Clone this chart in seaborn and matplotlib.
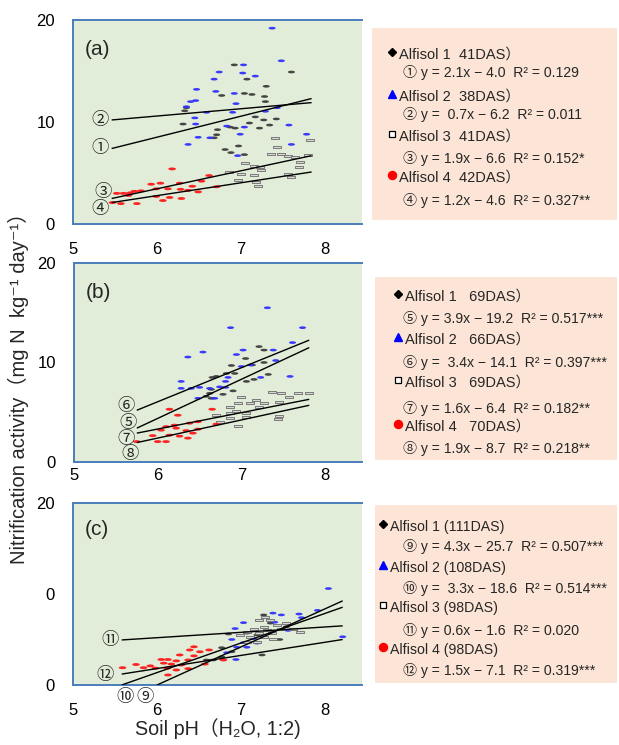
import numpy as np
import pandas as pd
import matplotlib
matplotlib.use("Agg")
import matplotlib.pyplot as plt
import seaborn as sns
from matplotlib.path import Path

W, H = 619, 745
sns.set_theme(style="white")
FONTS = ['Liberation Sans', 'Noto Sans CJK JP', 'DejaVu Sans']
plt.rcParams['font.family'] = FONTS

# ---------------- data ----------------
soils = ["Alfisol 1", "Alfisol 2", "Alfisol 3", "Alfisol 4"]

# panel (a)
a1_x = [6.92, 7.07, 7.60, 7.30, 6.77, 7.04, 7.13, 7.28, 7.29, 6.35, 6.33, 7.17, 7.27, 7.42, 7.10, 6.31, 6.87, 6.93, 7.22, 7.34, 6.72, 6.71, 6.68, 6.97, 6.81, 7.04, 6.88]
a1_y = [15.6, 14.2, 14.9, 13.5, 12.6, 12.8, 12.7, 12.5, 12.0, 11.4, 11.1, 10.5, 10.2, 10.3, 9.9, 9.8, 9.5, 9.4, 9.4, 9.7, 9.25, 8.75, 8.45, 7.65, 7.3, 6.8, 7.0]
a2_x = [7.37, 7.48, 6.74, 7.03, 7.02, 7.17, 6.68, 6.47, 6.70, 6.92, 6.46, 6.40, 6.35, 6.94, 6.59, 6.90, 7.29, 7.43, 6.45, 6.46, 6.83, 7.04, 7.57, 6.49, 6.63, 6.99, 7.78, 6.37, 7.60, 6.96]
a2_y = [19.2, 16.0, 14.9, 15.6, 14.8, 14.5, 14.2, 13.2, 13.0, 12.8, 12.1, 12.0, 11.5, 11.8, 10.95, 10.95, 11.05, 11.4, 10.4, 9.8, 9.6, 9.5, 9.7, 8.5, 8.45, 8.8, 8.8, 7.8, 7.8, 6.7]
a3_x = [7.40, 7.82, 7.43, 7.48, 7.56, 7.64, 7.80, 7.70, 7.05, 7.15, 7.23, 6.86, 7.00, 7.16, 7.56, 7.60, 6.96, 7.18, 7.20, 7.36, 7.69, 7.24]
a3_y = [8.45, 8.2, 7.55, 6.9, 6.65, 6.6, 6.75, 6.1, 5.95, 5.7, 5.6, 5.1, 4.95, 4.8, 4.95, 4.6, 4.3, 4.15, 3.75, 6.85, 5.6, 5.3]
a4_x = [6.18, 6.62, 6.53, 6.27, 6.04, 5.93, 6.42, 6.71, 5.99, 6.13, 6.28, 6.37, 6.49, 5.81, 5.73, 5.68, 5.60, 5.52, 5.66, 5.99, 6.15, 6.29, 6.07, 5.57, 5.76, 5.47]
a4_y = [5.4, 4.75, 4.2, 4.0, 4.0, 3.9, 3.7, 3.65, 3.45, 3.45, 3.4, 3.3, 3.15, 3.25, 3.2, 3.05, 3.0, 3.0, 2.8, 2.7, 2.6, 2.5, 2.3, 2.0, 2.0, 2.1]

# panel (b)
b1_x = [7.21, 7.27, 7.05, 7.27, 7.13, 6.88, 6.82, 6.70, 6.65, 6.92, 7.15, 7.32, 7.06, 6.90, 6.64, 6.62, 6.58, 6.78, 6.64]
b1_y = [11.6, 11.25, 10.4, 10.0, 9.75, 9.7, 8.9, 8.6, 8.5, 8.9, 8.3, 8.8, 8.1, 7.15, 7.3, 6.9, 6.6, 6.8, 6.4]
b2_x = [7.31, 6.87, 7.73, 7.61, 6.54, 6.36, 6.94, 7.02, 7.38, 7.41, 7.00, 7.11, 7.23, 7.58, 6.84, 6.81, 6.74, 6.28, 6.28, 6.40, 6.50, 6.62, 6.81, 6.48, 6.68]
b2_y = [15.5, 13.5, 13.5, 12.0, 11.05, 10.55, 10.8, 11.25, 11.25, 10.2, 9.6, 9.75, 8.5, 8.6, 8.5, 8.1, 7.55, 8.1, 7.4, 7.4, 7.5, 7.4, 7.5, 6.4, 6.4]
b3_x = [7.37, 7.47, 7.67, 7.81, 7.57, 7.00, 7.17, 6.96, 7.10, 7.27, 7.45, 6.86, 7.21, 6.94, 7.06, 6.86, 7.45, 7.44, 7.06, 6.96, 6.74, 6.86, 6.70]
b3_y = [7.05, 6.9, 6.9, 6.9, 6.5, 6.5, 6.25, 5.9, 5.9, 5.95, 6.05, 5.5, 5.5, 5.15, 4.9, 4.95, 4.6, 4.3, 4.55, 3.6, 4.05, 4.4, 4.7]
b4_x = [6.14, 6.65, 6.24, 6.70, 6.48, 6.38, 6.20, 6.10, 6.22, 6.48, 6.34, 6.04, 6.14, 6.26, 6.36, 5.94, 6.00, 6.10, 5.75, 6.42]
b4_y = [5.3, 5.3, 4.7, 3.8, 4.05, 3.9, 3.7, 3.55, 3.4, 3.3, 3.15, 3.2, 2.7, 2.6, 2.4, 2.65, 2.05, 2.05, 2.05, 2.9]

# panel (c)
c1_x = [7.27, 7.46, 7.25, 6.85, 6.77, 6.89, 6.77, 6.67, 7.35, 7.54, 7.19, 7.07, 6.59]
c1_y = [7.7, 5.0, 3.3, 5.6, 4.1, 3.65, 3.1, 2.75, 6.8, 6.4, 5.5, 5.7, 2.75]
c2_x = [8.04, 7.91, 7.69, 7.72, 7.38, 7.48, 7.40, 7.03, 7.56, 6.93, 7.15, 6.89, 7.03, 7.19, 6.95, 7.07, 6.83, 6.94, 8.21]
c2_y = [10.6, 8.2, 7.8, 7.4, 7.9, 7.7, 6.9, 6.85, 6.0, 6.2, 5.1, 5.0, 4.65, 4.6, 4.15, 4.15, 3.55, 2.8, 5.3]
c3_x = [7.29, 7.21, 7.35, 7.43, 7.27, 7.15, 7.31, 7.48, 7.07, 7.21, 7.37, 7.62, 7.11, 7.27, 7.38, 7.19, 7.07, 7.54, 7.70, 6.99]
c3_y = [7.5, 7.15, 7.15, 6.6, 6.4, 6.2, 6.05, 6.1, 5.85, 5.7, 5.7, 6.2, 5.3, 5.3, 5.1, 4.75, 4.75, 6.85, 5.85, 5.5]
c4_x = [6.44, 6.39, 6.51, 6.62, 6.27, 6.44, 6.79, 6.05, 6.13, 6.23, 6.37, 6.08, 6.17, 6.29, 5.92, 5.84, 5.98, 6.12, 5.75, 5.59, 6.37, 6.23, 6.13, 6.57]
c4_y = [4.2, 3.85, 3.65, 3.85, 3.3, 3.2, 2.75, 2.8, 2.8, 2.65, 2.75, 2.4, 2.3, 2.2, 2.1, 1.9, 1.85, 1.85, 2.25, 1.9, 1.8, 1.65, 1.1, 2.3]

# regression lines as drawn (start/end pH and activity)
a_fit_x = [[5.46, 7.84], [5.46, 7.84], [5.46, 7.84], [5.46, 7.84]]
a_fit_y = [[7.4, 12.3], [10.2, 11.9], [2.5, 6.7], [2.1, 5.1]]
b_fit_x = [[5.75, 7.81], [5.75, 7.81], [5.75, 7.81], [5.75, 7.81]]
b_fit_y = [[3.4, 11.5], [5.2, 12.25], [2.9, 6.3], [1.95, 5.7]]
c_fit_x = [[6.0, 8.21], [5.58, 8.21], [5.58, 8.21], [5.58, 8.21]]
c_fit_y = [[0.0, 9.25], [0.0, 8.55], [4.95, 6.5], [1.2, 5.0]]

a_nums = ["①", "②", "③", "④"]
b_nums = ["⑤", "⑥", "⑦", "⑧"]
c_nums = ["⑨", "⑩", "⑪", "⑫"]
a_num_pos = [(5.32, 7.45), (5.32, 10.2), (5.36, 3.14), (5.32, 1.47)]
b_num_pos = [(5.65, 3.9), (5.62, 5.63), (5.62, 2.3), (5.67, 0.8)]
c_num_pos = [(5.86, -1.3), (5.62, -1.3), (5.44, 4.95), (5.38, 1.1)]

a_heads = ["Alfisol 1  41DAS）", "Alfisol 2  38DAS）", "Alfisol 3  41DAS）", "Alfisol 4  42DAS）"]
a_eqs = ["① y = 2.1x − 4.0  R² = 0.129", "② y =  0.7x − 6.2  R² = 0.011",
         "③ y = 1.9x − 6.6  R² = 0.152*", "④ y = 1.2x − 4.6  R² = 0.327**"]
b_heads = ["Alfisol 1   69DAS）", "Alfisol 2   66DAS）", "Alfisol 3   69DAS）", "Alfisol 4   70DAS）"]
b_eqs = ["⑤ y = 3.9x − 19.2  R² = 0.517***", "⑥ y =  3.4x − 14.1  R² = 0.397***",
         "⑦ y = 1.6x − 6.4  R² = 0.182**", "⑧ y = 1.9x − 8.7  R² = 0.218**"]
c_heads = ["Alfisol 1 (111DAS)", "Alfisol 2 (108DAS)", "Alfisol 3 (98DAS)", "Alfisol 4 (98DAS)"]
c_eqs = ["⑨ y = 4.3x − 25.7  R² = 0.507***", "⑩ y =  3.3x − 18.6  R² = 0.514***",
         "⑪ y = 0.6x − 1.6  R² = 0.020", "⑫ y = 1.5x − 7.1  R² = 0.319***"]

panel_tags = ["(a)", "(b)", "(c)"]
x_ticks = [5, 5.5, 6, 6.5, 7, 7.5, 8]
x_ticklabels = ["5", "", "6", "", "7", "", "8"]
y_ticks = [0, 5, 10, 15, 20]
y_ticklabels = [["0", "", "10", "", "20"], ["0", "", "10", "", "20"], ["0", "", "0", "", "20"]]

# ---------------- style ----------------
GREEN = "#E1EDD8"
PEACH = "#FCE5D6"
BLUE_AX = "#4A7EBB"
COLS = ["#3C3C3C", "#3030FF", "#555555", "#FF1A1A"]

ell = np.array([[np.cos(t), 0.38 * np.sin(t)] for t in np.linspace(0, 2 * np.pi, 25)])
ELL = Path(ell, closed=True)
RECT = Path([(-1, -0.38), (1, -0.38), (1, 0.38), (-1, 0.38), (-1, -0.38)], closed=True)

fig = plt.figure(figsize=(W / 100, H / 100), dpi=100)

def fig_axes(x0, y0, x1, y1):
    return fig.add_axes([x0 / W, 1 - y1 / H, (x1 - x0) / W, (y1 - y0) / H])

plot_boxes = [(73, 20, 362, 224), (74, 263, 362, 462), (73, 503, 362, 685)]
xpads = [9, 0.5, 9]
leg_boxes = [(372, 28, 617, 220), (375, 277, 617, 460), (375, 505, 617, 683)]
leg_rows = [
    dict(head_y=[55, 97, 137, 178], eq_y=[73, 115, 158, 200], mk_x=392, tx=399, eq_x=403, hs=10.5),
    dict(head_y=[297, 340, 383, 427], eq_y=[318, 362, 408, 448], mk_x=398, tx=405, eq_x=403, hs=10.5),
    dict(head_y=[527, 568, 608, 650], eq_y=[547, 588, 630, 670], mk_x=383, tx=390, eq_x=403, hs=10.2),
]

panels = [
    ([(a1_x, a1_y), (a2_x, a2_y), (a3_x, a3_y), (a4_x, a4_y)], a_fit_x, a_fit_y, a_nums, a_num_pos, a_heads, a_eqs),
    ([(b1_x, b1_y), (b2_x, b2_y), (b3_x, b3_y), (b4_x, b4_y)], b_fit_x, b_fit_y, b_nums, b_num_pos, b_heads, b_eqs),
    ([(c1_x, c1_y), (c2_x, c2_y), (c3_x, c3_y), (c4_x, c4_y)], c_fit_x, c_fit_y, c_nums, c_num_pos, c_heads, c_eqs),
]

for i, (pts, fx, fy, nums, npos, heads, eqs) in enumerate(panels):
    ax = fig_axes(*plot_boxes[i])
    ax.set_facecolor(GREEN)
    for k, (xs, ys) in enumerate(pts):
        df = pd.DataFrame({"pH": xs, "act": ys, "soil": soils[k]})
        if k == 2:
            sns.scatterplot(data=df, x="pH", y="act", marker=RECT, s=26, color="#D8D8D8",
                            edgecolor="#6A6A6A", linewidth=0.6, ax=ax, legend=False, zorder=3)
        else:
            sns.scatterplot(data=df, x="pH", y="act", marker=ELL, s=30 if k == 3 else 26,
                            color=COLS[k], edgecolor="none", linewidth=0, ax=ax, legend=False,
                            zorder=3, alpha=0.95)
    for k in range(4):
        ax.plot(fx[k], fy[k], color="black", lw=1.0, zorder=4, solid_capstyle="butt")
        ax.text(npos[k][0], npos[k][1], nums[k], ha="center", va="center", fontsize=12.5,
                clip_on=False, zorder=5)
    ax.set_xlim(5, 8.44)
    ax.set_ylim(0, 20)
    ax.set_xticks(x_ticks)
    ax.set_xticklabels(x_ticklabels)
    ax.set_yticks(y_ticks)
    ax.set_yticklabels(y_ticklabels[i])
    ax.set_xlabel("")
    ax.set_ylabel("")
    for s in ["left", "bottom", "top"]:
        ax.spines[s].set_visible(True)
        ax.spines[s].set_color(BLUE_AX)
        ax.spines[s].set_linewidth(1.4)
    ax.spines["right"].set_visible(False)
    ax.tick_params(axis="both", direction="out", length=4, width=1, color=BLUE_AX,
                   labelsize=12, pad=9, labelcolor="black")
    ax.tick_params(axis="x", pad=xpads[i])
    ax.text(0.04, 0.853, panel_tags[i], transform=ax.transAxes, fontsize=15,
            ha="left", va="center", family=["Liberation Sans", "DejaVu Sans"])

    # legend box
    x0, y0, x1, y1 = leg_boxes[i]
    lg = fig_axes(x0, y0, x1, y1)
    lg.set_facecolor(PEACH)
    lg.set_xlim(x0, x1)
    lg.set_ylim(y1, y0)
    lg.set_xticks([])
    lg.set_yticks([])
    for s in lg.spines.values():
        s.set_visible(False)
    r = leg_rows[i]
    mk = [dict(marker="D", ms=4.0, mfc="black", mec="black"),
          dict(marker="^", ms=5.5, mfc="#0000FF", mec="#0000FF"),
          dict(marker="s", ms=4.8, mfc="white", mec="black", mew=0.9),
          dict(marker="o", ms=5.8, mfc="#FF0000", mec="#FF0000")]
    for k in range(4):
        lg.plot([r["mk_x"]], [r["head_y"][k] - 3], ls="none", **mk[k])
        lg.text(r["tx"], r["head_y"][k], heads[k], ha="left", va="center", fontsize=r["hs"])
        lg.text(r["eq_x"], r["eq_y"][k], eqs[k], ha="left", va="center", fontsize=10.1)

fig.text(18 / W, 1 - 383 / H, "Nitrification activity（mg N  kg⁻¹ day⁻¹）", rotation=90,
         ha="center", va="center", fontsize=14.5)
fig.text(218 / W, 1 - 729 / H, "Soil pH（H₂O, 1:2)", ha="center", va="center", fontsize=14.2)

fig.savefig("out.png", dpi=100)
